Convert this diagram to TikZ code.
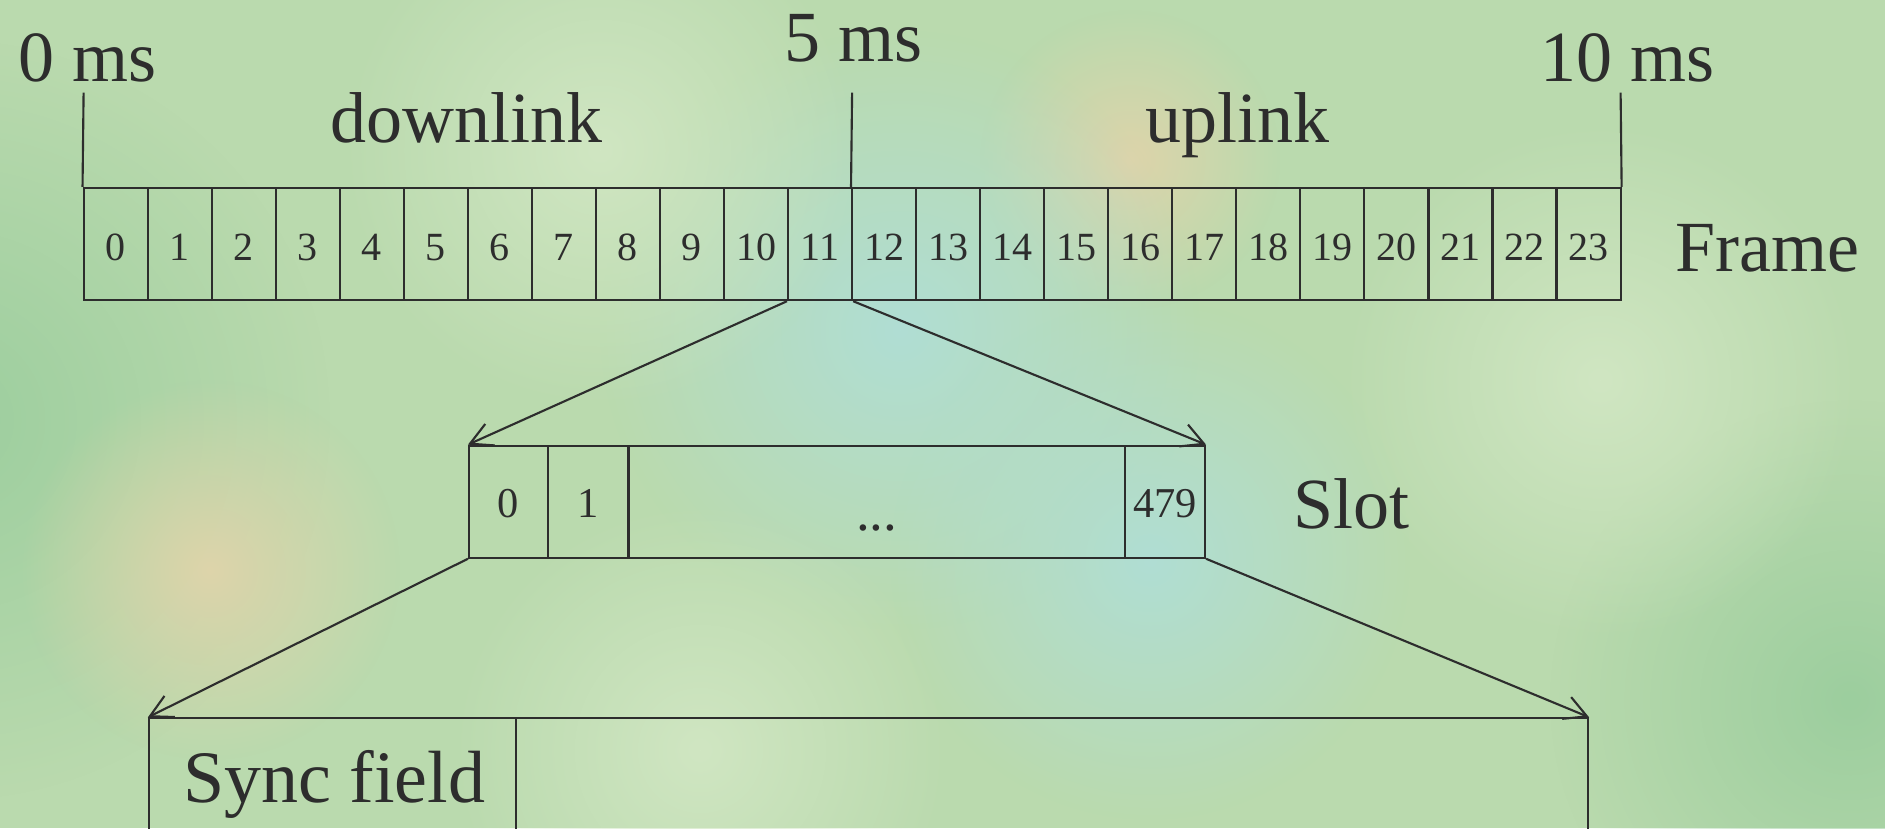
\documentclass[tikz,border=0pt]{standalone}
\usepackage{fontspec}
\setmainfont{Liberation Serif}
\usetikzlibrary{arrows.meta,fadings}
\definecolor{ink}{RGB}{45,45,45}
\definecolor{bgbase}{RGB}{186,218,174}
\definecolor{bgblue}{RGB}{176,222,212}
\definecolor{bgtan}{RGB}{222,212,170}
\definecolor{bggreen}{RGB}{156,206,158}
\definecolor{bglight}{RGB}{208,230,194}
\tikzfading[name=blobfade, inner color=transparent!0, outer color=transparent!100]
\begin{document}
\begin{tikzpicture}[x=0.4pt,y=-0.4pt,
  line width=0.85pt,
  big/.style={inner sep=0pt, text=ink, font=\fontsize{28.8pt}{30pt}\selectfont},
  fcell/.style={draw=ink, rectangle, inner sep=0pt, minimum width=25.616pt, minimum height=44.92pt, text height=12.8pt, text depth=0pt, text=ink, font=\fontsize{16pt}{17pt}\selectfont},
  scell/.style={draw=ink, rectangle, inner sep=0pt, minimum height=44.8pt, text height=12.8pt, text depth=0pt, text=ink, font=\fontsize{17pt}{18pt}\selectfont},
  link/.style={draw=ink, -{Straight Barb[length=8.8pt,width=9.4pt,line width=0.85pt]}},
  tick/.style={draw=ink},
  blob/.style={fill=#1, path fading=blobfade}]
\useasboundingbox (0,0) rectangle (1885,828);
\clip (0,0) rectangle (1885,828);
% background
\fill[bgbase] (0,0) rectangle (1885,828);
\fill[blob=bggreen] (-50,420) circle (380);
\fill[blob=bggreen] (1850,700) circle (300);
\fill[blob=bgtan] (210,570) circle (190);
\fill[blob=bgtan] (1130,160) circle (150);
\fill[blob=bgblue] (900,330) circle (300);
\fill[blob=bgblue] (1150,560) circle (260);
\fill[blob=bglight] (600,150) circle (260);
\fill[blob=bglight] (1600,380) circle (260);
\fill[blob=bglight] (700,750) circle (250);
% frame cells
\foreach \i in {0,...,23}{
  \node[fcell] (f\i) at ({83.6+(\i+0.5)*64.04},244) {\i};
}
% ticks
\coordinate (t0) at (83.6,92.7);
\coordinate (t5) at (852.1,92.7);
\coordinate (t10) at (1620.6,92.7);
\draw[tick] (t0) -- (f0.north west);
\draw[tick] (t5) -- (f12.north west);
\draw[tick] (t10) -- (f23.north east);
% labels
\node[big, anchor=base west] (l0) at (17,81) {0 ms};
\node[big, anchor=base west] (l5) at (783,61) {5 ms};
\node[big, anchor=base west] (l10) at (1539,81) {10 ms};
\node[big, anchor=base west] (dl) at (329,142) {downlink};
\node[big, anchor=base west] (ul) at (1144,142) {uplink};
\node[big, anchor=base west] (fr) at (1674,271) {Frame};
% slot
\node[scell, minimum width=31.6pt] (s0) at (508.5,501.7) {0};
\node[scell, minimum width=32.2pt] (s1) at (588.25,501.7) {1};
\node[scell, minimum width=198.6pt] (sd) at (876.75,501.7) {};
\node[scell, minimum width=32pt] (s479) at (1165,501.7) {479};
\node[inner sep=0pt, text=ink, font=\fontsize{22pt}{23pt}\selectfont, anchor=base] (sdt) at (876.75,530.7) {...};
\node[big, anchor=base west] (sl) at (1292,528) {Slot};
% sync
\node[draw=ink, rectangle, inner sep=0pt, minimum width=575.6pt, minimum height=100pt] (sync) at (868.5,843.3) {};
\node[draw=ink, rectangle, inner sep=0pt, minimum width=146.8pt, minimum height=100pt] (syncA) at (332.5,843.3) {};
\node[inner sep=0pt, text=ink, font=\fontsize{29.6pt}{31pt}\selectfont, anchor=base west] (sf) at (182,802) {Sync field};
% connectors
\draw[link] (f11.south west) -- (s0.north west);
\draw[link] (f11.south east) -- (s479.north east);
\draw[link] (s0.south west) -- (sync.north west);
\draw[link] (s479.south east) -- (sync.north east);
\end{tikzpicture}
\end{document}
